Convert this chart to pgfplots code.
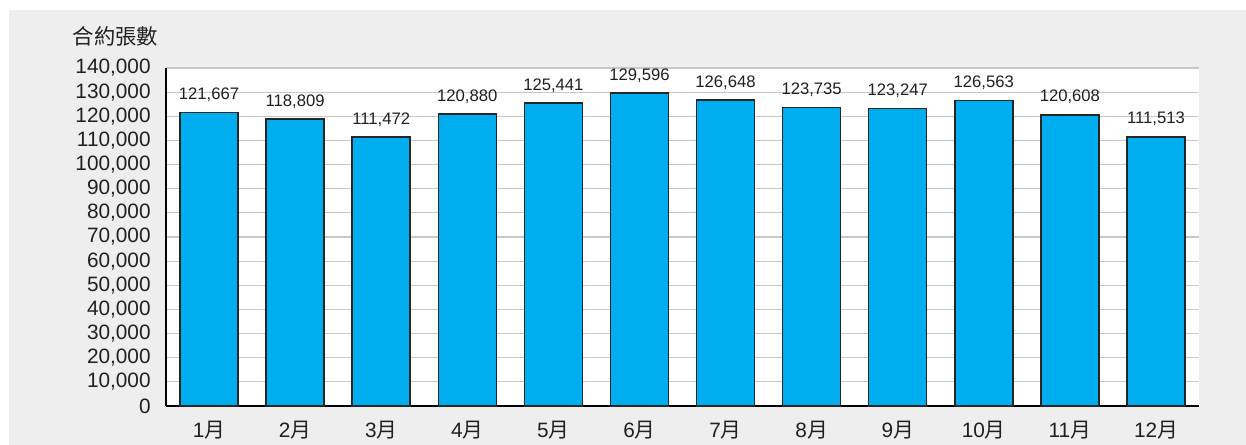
\documentclass[border=0pt]{standalone}
\usepackage{fontspec}
\setmainfont{Liberation Sans}
\newfontfamily\cjk{Noto Sans CJK TC}
\usepackage{pgfplots}
\pgfplotsset{compat=1.18}
\definecolor{bg}{HTML}{EEEEEE}
\definecolor{barblue}{HTML}{00ADEE}
\definecolor{gridgray}{HTML}{C8C8C8}
\definecolor{txt}{HTML}{231F20}
\begin{document}
\begin{tikzpicture}[x=1pt,y=1pt]
\useasboundingbox (0,0) rectangle (934.5,333.75);
\fill[white] (0,0) rectangle (934.5,333.75);
\fill[bg] (6.75,0) rectangle (934.5,326.25);
\node[anchor=west, inner sep=0, text=txt, font=\cjk\fontsize{16}{18}\selectfont] at (54.5,306.5) {合約張數};
\begin{axis}[
  at={(124.5pt,29.25pt)}, anchor=south west,
  scale only axis, width=774.75pt, height=253.5pt,
  xmin=-0.5, xmax=11.5, ymin=0, ymax=140000,
  axis x line*=bottom, axis y line*=left,
  axis line style={black, line width=1.1pt, -},
  axis background/.style={fill=white},
  ymajorgrids, major grid style={gridgray, line width=0.9pt},
  major tick length=0,
  ytick={0,10000,...,140000},
  xtick={0,...,11},
  xticklabels={1{\cjk 月},2{\cjk 月},3{\cjk 月},4{\cjk 月},5{\cjk 月},6{\cjk 月},7{\cjk 月},8{\cjk 月},9{\cjk 月},10{\cjk 月},11{\cjk 月},12{\cjk 月}},
  scaled y ticks=false,
  /pgf/number format/assume math mode=true,
  /pgf/number format/fixed, /pgf/number format/precision=0,
  /pgf/number format/1000 sep={,},
  tick label style={font=\fontsize{15.6}{18}\selectfont, text=txt},
  yticklabel style={xshift=-8pt},
  xticklabel style={yshift=-8pt},
  clip=false,
  ybar, bar width=43.5pt,
  nodes near coords,
  every node near coord/.append style={font=\fontsize{12.5}{14}\selectfont, text=txt, anchor=south, inner sep=0pt, yshift=7.5pt},
]
\addplot[fill=barblue, draw=black!85, line width=1.1pt] coordinates {
(0,121667) (1,118809) (2,111472) (3,120880) (4,125441) (5,129596)
(6,126648) (7,123735) (8,123247) (9,126563) (10,120608) (11,111513)
};
\end{axis}
\end{tikzpicture}
\end{document}
